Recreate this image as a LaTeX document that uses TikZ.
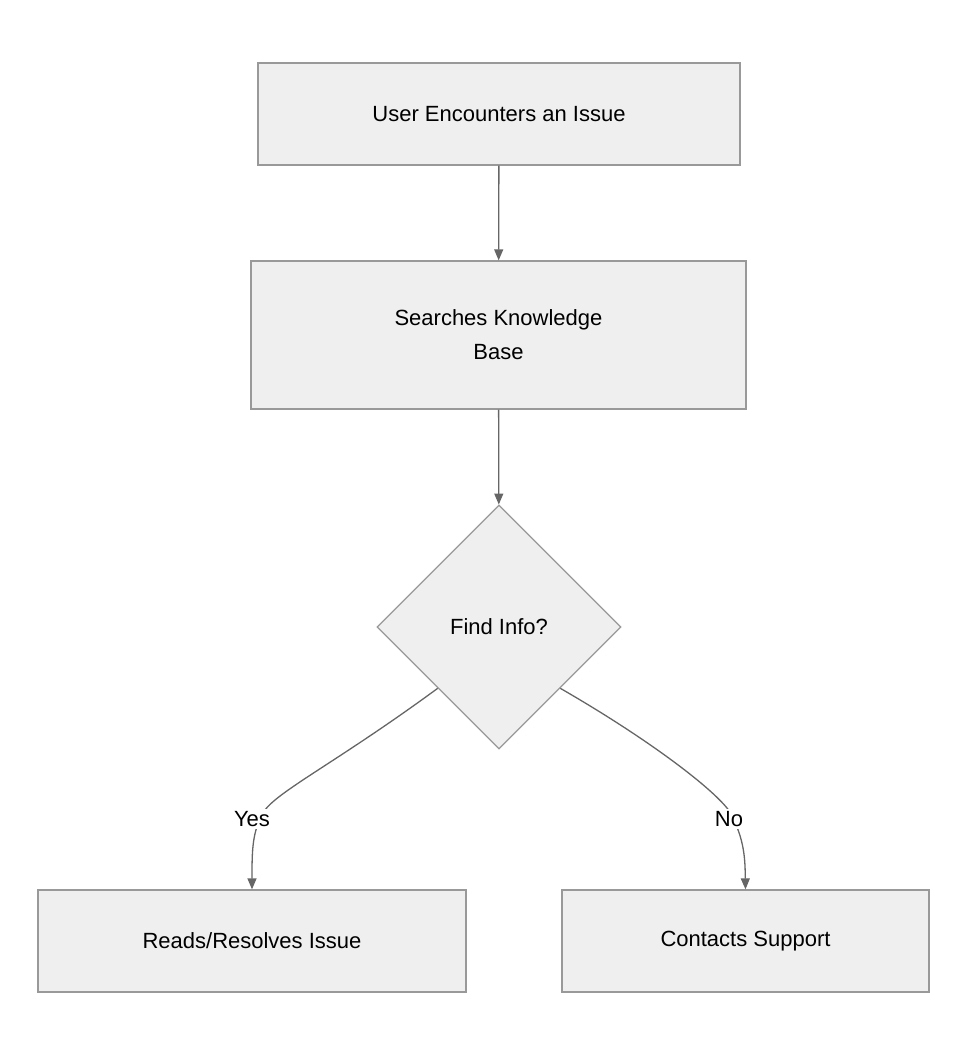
\documentclass[tikz,border=0pt]{standalone}
\usepackage{fontspec}
\setmainfont{Liberation Sans}
\usetikzlibrary{shapes.geometric,arrows.meta}
\definecolor{bx}{HTML}{EFEFEF}
\definecolor{bd}{HTML}{999999}
\definecolor{ln}{HTML}{666666}
\begin{document}
\begin{tikzpicture}[x=1pt,y=-1pt,
  box/.style={draw=bd,fill=bx,line width=1.3pt,font=\fontsize{22}{34}\selectfont,align=center,inner sep=0pt},
  con/.style={draw=ln,line width=1.3pt,-{Triangle[length=11pt,width=9pt]}},
  lab/.style={fill=white,font=\fontsize{22}{26}\selectfont,inner sep=2pt}]
\useasboundingbox (0,0) rectangle (966,1056);
\node[box,minimum width=482pt,minimum height=102pt] (a) at (499,114) {User Encounters an Issue};
\node[box,minimum width=495pt,minimum height=148pt] (b) at (498.5,335) {Searches Knowledge\\Base};
\node[box,diamond,minimum width=244pt,minimum height=244pt] (d) at (499,627) {Find Info?};
\node[box,minimum width=428pt,minimum height=102pt] (y) at (252,941) {Reads/Resolves Issue};
\node[box,minimum width=367pt,minimum height=102pt] (n) at (745.5,941) {Contacts Support};
\draw[con] (a) -- (b);
\draw[con] (b) -- (d);
\draw[con] (d.-135) .. controls (340,760) and (280,790) .. (265,810) .. controls (252,830) and (252,850) .. (y.north);
\draw[con] (d.-45) .. controls (650,740) and (715,790) .. (730,812) .. controls (745,840) and (745,860) .. (n.north);
\node[lab] (ly) at (252,819) {Yes};
\node[lab] (ln) at (729,819) {No};
\end{tikzpicture}
\end{document}
